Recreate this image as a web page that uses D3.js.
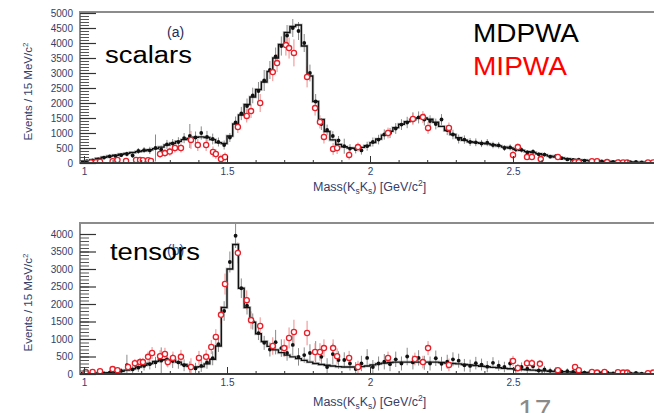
<!DOCTYPE html>
<html>
<head>
<meta charset="utf-8">
<script src="https://cdn.jsdelivr.net/npm/d3@7"></script>
<style>
  body { margin: 0; background: #fff; }
  svg { display: block; font-family: Arial, "Liberation Sans", sans-serif; }
</style>
</head>
<body>
<svg id="chart" width="654" height="413"></svg>
<script>
// histogram bins: first bin centre and width (GeV/c^2)
const binStart = 0.99;
const binWidth = 0.02;

// (a) scalars
const topFit = [40,70,110,150,190,230,260,290,320,350,380,410,440,480,530,600,660,720,780,820,
  860,870,850,780,680,650,900,1300,1600,1950,2200,2450,2700,3050,3500,3950,4350,4550,4600,3900,
  2900,2050,1450,1050,770,620,540,500,490,520,580,680,800,930,1060,1180,1290,1380,1450,1500,
  1500,1460,1360,1220,1080,950,840,760,710,680,660,640,610,570,530,500,460,420,380,350,
  310,270,230,200,170,140,120,100,90,80,70,60,55,50,45,40,35,30,30,25,25];
const topData = [40,60,90,120,180,220,230,260,300,250,400,430,420,500,450,620,650,700,830,900,
  850,1000,870,800,700,600,850,1350,1650,1900,2250,2400,2750,3100,3550,3900,4250,4500,4400,4000,
  3000,2050,1300,1100,900,750,560,480,460,420,560,700,780,950,1000,1150,1280,1350,1500,1520,
  1450,1400,1300,1450,1100,950,800,780,700,690,650,680,600,590,500,520,450,440,350,380,
  290,280,210,230,160,120,100,110,80,70,80,50,60,40,50,40,30,40,20,30,20];
const topErr = [30,40,40,50,60,60,70,70,80,80,100,100,120,450,130,150,150,160,170,400,
  200,220,200,180,150,150,150,200,220,250,260,300,350,300,300,320,350,300,300,300,
  280,250,200,180,160,150,250,150,140,140,150,150,160,170,170,180,180,190,190,200,
  200,190,180,180,170,160,150,140,130,130,120,120,110,110,100,100,90,90,80,80,
  70,70,60,60,50,50,40,40,40,30,30,30,30,30,30,30,20,20,20,20,20];
// MIPWA points: [mass, events, error]
const topRed = [[1.024,20,60],[1.042,30,60],[1.056,40,60],[1.1,60,80],[1.117,100,90],[1.147,70,90],
  [1.182,100,100],[1.196,100,100],[1.206,90,100],[1.224,90,100],[1.234,70,100],[1.266,300,130],
  [1.283,330,130],[1.3,380,140],[1.318,500,150],[1.339,500,150],[1.374,770,300],[1.398,600,200],
  [1.427,600,200],[1.451,370,180],[1.461,300,160],[1.479,130,150],[1.493,200,150],[1.538,1200,200],
  [1.569,1570,220],[1.584,1730,230],[1.616,2000,300],[1.66,3030,300],[1.675,3330,300],[1.706,3930,350],
  [1.717,3830,350],[1.734,3670,450],[1.78,2870,350],[1.808,1830,250],[1.825,1370,220],[1.839,870,220],
  [1.871,470,200],[1.885,500,200],[1.927,270,160],[1.958,530,150],[2.063,1000,180],[2.15,1470,200],
  [2.185,1530,200],[2.203,1170,200],[2.276,1170,180],[2.5,270,150],[2.517,530,120],[2.549,200,100],
  [2.566,200,100],[2.597,130,90],[2.657,200,80],[2.717,30,60],[2.73,30,60],[2.776,60,50],
  [2.794,60,50],[2.829,30,40],[2.867,20,40],[2.885,20,40],[2.899,20,40],[2.972,20,30],[2.99,20,30]];

// (b) tensors
const botFit = [10,15,20,25,30,35,50,80,110,150,200,250,300,360,400,410,390,340,270,220,
  200,210,290,420,800,1900,3000,3700,2450,1900,1480,1150,930,790,690,610,540,490,440,390,
  340,300,270,250,230,210,200,200,200,210,230,260,290,310,330,340,340,340,340,340,
  340,340,340,330,310,300,290,270,260,240,220,210,190,180,160,150,140,130,120,110,
  100,90,80,70,65,60,55,50,45,40,35,30,30,25,25,20,20,20,15,15,15];
const botData = [10,20,10,30,20,40,30,90,250,130,180,230,280,330,380,420,370,330,250,200,
  160,230,330,450,850,1800,3200,3950,2450,1950,1500,1170,890,700,910,740,600,830,490,540,
  600,640,490,200,570,400,400,300,140,300,460,200,300,350,280,420,300,500,330,460,
  320,300,450,290,350,420,380,250,230,310,270,210,320,240,200,300,130,200,150,220,
  100,130,90,110,70,80,60,70,40,50,40,30,40,20,30,20,20,30,10,20,10];
const botErr = [40,40,40,50,50,60,60,80,300,100,120,130,150,160,380,200,200,180,170,160,
  160,170,180,200,220,280,300,350,280,250,230,200,200,200,350,250,220,300,250,220,
  250,300,220,250,300,250,220,200,200,220,250,200,200,220,200,220,200,250,200,220,
  200,200,220,200,200,200,200,180,180,180,170,160,160,150,150,150,130,130,120,120,
  100,100,90,90,80,80,70,70,60,60,50,50,50,40,40,40,30,30,30,30,30];
const botRed = [[1.006,60,60],[1.03,60,60],[1.056,80,60],[1.1,140,80],[1.117,110,80],[1.154,200,100],
  [1.178,310,120],[1.196,340,120],[1.206,340,120],[1.224,490,150],[1.238,600,170],[1.266,510,170],
  [1.283,570,180],[1.293,340,150],[1.311,460,180],[1.339,490,200],[1.374,200,250],[1.402,460,200],
  [1.427,490,200],[1.445,770,200],[1.461,1060,220],[1.479,1690,250],[1.493,2570,300],[1.538,3460,300],
  [1.569,2110,280],[1.584,1540,250],[1.616,1370,250],[1.66,800,250],[1.7,740,250],[1.717,1030,300],
  [1.734,1200,350],[1.78,1170,350],[1.808,630,250],[1.825,630,250],[1.839,740,250],[1.871,740,250],
  [1.885,510,220],[1.927,460,200],[1.958,200,180],[2.063,460,180],[2.157,430,180],[2.185,340,180],
  [2.203,740,200],[2.276,260,180],[2.5,370,150],[2.517,170,120],[2.549,310,120],[2.566,310,120],
  [2.594,290,110],[2.657,110,90],[2.717,200,80],[2.73,110,80],[2.776,60,60],[2.794,40,60],
  [2.82,60,50],[2.867,50,40],[2.885,40,40],[2.899,40,40],[2.972,20,30],[2.99,40,30]];

// axis ticks
const xMajor = [1, 1.5, 2, 2.5];
const xTickLabels = ["1", "1.5", "2", "2.5"];
const topYMajor = [0,500,1000,1500,2000,2500,3000,3500,4000,4500,5000];
const botYMajor = [0,500,1000,1500,2000,2500,3000,3500,4000];

const svg = d3.select("#chart");
const labelColor = "#34406a";

const x = d3.scaleLinear().domain([0.986, 3.0]).range([80, 656]);

const panels = [
  { id: "a", fit: topFit, data: topData, err: topErr, red: topRed, yMajor: topYMajor,
    y: d3.scaleLinear().domain([0, 5000]).range([163, 13]), top: 12,
    name: "scalars", nameX: 105, nameY: 63, nameW: 87, tagY: 37, tagColor: "#1e2b55", xlabY: 191 },
  { id: "b", fit: botFit, data: botData, err: botErr, red: botRed, yMajor: botYMajor,
    y: d3.scaleLinear().domain([0, 4000]).range([374, 234]), top: 223,
    name: "tensors", nameX: 110, nameY: 260, nameW: 90, tagY: 255, tagColor: "#2a5aa8", xlabY: 406 }
];

const mass = i => binStart + i * binWidth;

panels.forEach(p => {
  const y = p.y;
  const bottom = y(0);
  const g = svg.append("g").attr("class", "panel-" + p.id);

  const clipId = "clip-" + p.id;
  svg.append("clipPath").attr("id", clipId)
    .append("rect")
    .attr("x", 80).attr("y", p.top)
    .attr("width", 576).attr("height", bottom - p.top);

  const plot = g.append("g").attr("clip-path", `url(#${clipId})`);

  // fit histogram
  const steps = p.fit.map((v, i) => [mass(i) - binWidth / 2, v]);
  steps.push([mass(p.fit.length - 1) + binWidth / 2, p.fit[p.fit.length - 1]]);
  const line = d3.line()
    .x(d => x(d[0]))
    .y(d => y(d[1]))
    .curve(d3.curveStepAfter);

  // grey systematic band around the fit
  plot.append("path")
    .datum(steps)
    .attr("d", line)
    .attr("fill", "none")
    .attr("stroke", "#cfcfcf")
    .attr("stroke-width", 3);

  // MDPWA error bars
  plot.selectAll(".blk-err")
    .data(p.data)
    .enter()
    .append("line")
    .attr("x1", (d, i) => x(mass(i)))
    .attr("x2", (d, i) => x(mass(i)))
    .attr("y1", (d, i) => y(d - p.err[i]))
    .attr("y2", (d, i) => y(d + p.err[i]))
    .attr("stroke", "#8a8a8a")
    .attr("stroke-width", 1);

  // MIPWA error bars
  plot.selectAll(".red-err")
    .data(p.red)
    .enter()
    .append("line")
    .attr("x1", d => x(d[0]))
    .attr("x2", d => x(d[0]))
    .attr("y1", d => y(d[1] - d[2]))
    .attr("y2", d => y(d[1] + d[2]))
    .attr("stroke", "#f08a8a")
    .attr("stroke-width", 1);

  plot.append("path")
    .datum(steps)
    .attr("d", line)
    .attr("fill", "none")
    .attr("stroke", "#111")
    .attr("stroke-width", 1.4);

  // MDPWA points
  plot.selectAll(".blk")
    .data(p.data)
    .enter()
    .append("circle")
    .attr("cx", (d, i) => x(mass(i)))
    .attr("cy", d => y(d))
    .attr("r", 1.9)
    .attr("fill", "#111");

  // MIPWA points
  plot.selectAll(".red")
    .data(p.red)
    .enter()
    .append("circle")
    .attr("cx", d => x(d[0]))
    .attr("cy", d => y(d[1]))
    .attr("r", 2.6)
    .attr("fill", "#fff")
    .attr("stroke", "#e8202a")
    .attr("stroke-width", 1.3);

  // frame
  g.append("rect")
    .attr("x", 80).attr("y", p.top)
    .attr("width", 580).attr("height", bottom - p.top)
    .attr("fill", "none")
    .attr("stroke", "#8c8c8c")
    .attr("stroke-width", 2);
  g.append("line")
    .attr("x1", 80).attr("x2", 656)
    .attr("y1", bottom).attr("y2", bottom)
    .attr("stroke", "#222")
    .attr("stroke-width", 1.6);

  // y ticks (inside frame)
  g.append("g")
    .attr("transform", "translate(80,0)")
    .call(d3.axisRight(y).tickValues(d3.range(0, y.domain()[1] + 1, 100)).tickSize(9).tickFormat(""))
    .call(a => a.select(".domain").remove())
    .call(a => a.selectAll("line").attr("stroke", "#555"));
  g.append("g")
    .attr("transform", "translate(80,0)")
    .call(d3.axisRight(y).tickValues(p.yMajor).tickSize(16).tickFormat(""))
    .call(a => a.select(".domain").remove())
    .call(a => a.selectAll("line").attr("stroke", "#333").attr("stroke-width", 1.2));
  g.append("g")
    .attr("transform", "translate(80,0)")
    .call(d3.axisLeft(y).tickValues(p.yMajor).tickSize(0).tickPadding(7).tickFormat(d3.format("d")))
    .call(a => a.select(".domain").remove())
    .call(a => a.selectAll("text").attr("fill", labelColor).style("font-size", "10px"));

  // x ticks
  g.append("g")
    .attr("transform", `translate(0,${bottom})`)
    .call(d3.axisTop(x).tickValues(d3.range(10, 30, 1).map(v => v / 10)).tickSize(3).tickFormat(""))
    .call(a => a.select(".domain").remove())
    .call(a => a.selectAll("line").attr("stroke", "#333"));
  g.append("g")
    .attr("transform", `translate(0,${bottom})`)
    .call(d3.axisTop(x).tickValues(xMajor).tickSize(7).tickFormat(""))
    .call(a => a.select(".domain").remove())
    .call(a => a.selectAll("line").attr("stroke", "#333"));
  g.append("g")
    .attr("transform", `translate(0,${bottom})`)
    .call(d3.axisBottom(x).tickValues(xMajor).tickSize(0).tickPadding(5).tickFormat((d, i) => xTickLabels[i]))
    .call(a => a.select(".domain").remove())
    .call(a => a.selectAll("text").attr("fill", labelColor).style("font-size", "10px"));

  // y axis title
  const yt = g.append("text")
    .attr("transform", `translate(32,${(p.top + bottom) / 2 + 4}) rotate(-90)`)
    .attr("text-anchor", "middle")
    .attr("fill", labelColor)
    .style("font-size", "11.5px");
  yt.append("tspan").text("Events / 15 MeV/c");
  yt.append("tspan").attr("dy", -4).style("font-size", "8px").text("2");

  // x axis title
  const xt = g.append("text")
    .attr("x", 313).attr("y", p.xlabY)
    .attr("fill", labelColor)
    .style("font-size", "12.5px");
  xt.append("tspan").text("Mass(K");
  xt.append("tspan").attr("dy", 3).style("font-size", "8.5px").text("s");
  xt.append("tspan").attr("dy", -3).text("K");
  xt.append("tspan").attr("dy", 3).style("font-size", "8.5px").text("s");
  xt.append("tspan").attr("dy", -3).text(")  [GeV/c");
  xt.append("tspan").attr("dy", -5).style("font-size", "8.5px").text("2");
  xt.append("tspan").attr("dy", 5).text("]");

  // panel tag and name
  g.append("text")
    .attr("x", 167).attr("y", p.tagY)
    .attr("fill", p.tagColor)
    .style("font-size", "14px")
    .text(`(${p.id})`);
  g.append("text")
    .attr("x", p.nameX).attr("y", p.nameY)
    .attr("textLength", p.nameW)
    .attr("lengthAdjust", "spacingAndGlyphs")
    .attr("fill", "#000")
    .style("font-size", "23px")
    .text(p.name);
});

// legend text
svg.append("text")
  .attr("x", 473).attr("y", 42)
  .attr("textLength", 106).attr("lengthAdjust", "spacingAndGlyphs")
  .style("font-size", "25px").attr("fill", "#000")
  .text("MDPWA");
svg.append("text")
  .attr("x", 473).attr("y", 75)
  .attr("textLength", 94).attr("lengthAdjust", "spacingAndGlyphs")
  .style("font-size", "25px").attr("fill", "#ff0000")
  .text("MIPWA");

// slide number
svg.append("text")
  .attr("x", 518).attr("y", 420)
  .style("font-size", "30px").attr("fill", "#8a8a8a")
  .text("17");
</script>
</body>
</html>
